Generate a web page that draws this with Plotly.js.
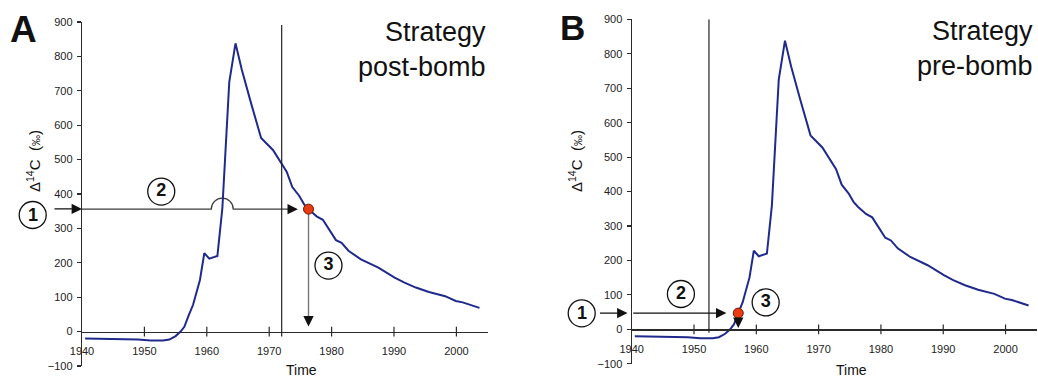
<!DOCTYPE html>
<html>
<head>
<meta charset="utf-8">
<script src="https://cdn.plot.ly/plotly-3.0.1.min.js"></script>
<style>html,body{margin:0;padding:0;background:#fff;}#chart{width:1038px;height:378px;}</style>
</head>
<body>
<div id="chart"></div>
<script>
// ---- data ----
const years = [1940.5, 1943, 1946, 1949, 1951, 1953, 1954, 1955, 1955.8, 1956.4, 1957.1, 1957.8, 1958.9, 1959.6, 1960.4, 1961.7, 1962.5, 1963.6, 1964.6, 1965.6, 1967, 1968.7, 1970.6, 1972, 1972.8, 1973.7, 1974.8, 1975.6, 1976.3, 1977.6, 1978.6, 1980.7, 1981.6, 1982.7, 1984.7, 1987.5, 1990.1, 1991.6, 1993.5, 1995.6, 1998.2, 1999.9, 2001, 2003.7];
const d14C = [-20, -21, -22, -23, -26, -26, -23, -13, 0, 14, 47, 78, 150, 228, 212, 220, 360, 725, 838, 762, 670, 563, 528, 490, 465, 420, 395, 370, 356, 335, 325, 266, 258, 235, 210, 186, 157, 143, 128, 115, 103, 89, 85, 69];

const xTickVals = [1940, 1950, 1960, 1970, 1980, 1990, 2000];
const xTickText = ['1940', '1950', '1960', '1970', '1980', '1990', '2000'];
const crossTicks = [1950, 1960, 1970, 1980, 1990, 2000];
const yTickVals = [-100, 0, 100, 200, 300, 400, 500, 600, 700, 800, 900];

const panelLetters = ['A', 'B'];
const strategyText = ['Strategy<br>post-bomb', 'Strategy<br>pre-bomb'];
const refYear = [1972.0, 1952.4];          // vertical reference lines
const dotYear = [1976.3, 1957.1];          // red measured points
const dotValue = [356, 47];
const stepLabels = ['2', '3'];
const stepYearA = [1952.7, 1979.5];
const stepValA = [407, 192];
const stepYearB = [1947.9, 1961.5];
const stepValB = [102.5, 78];

// ---- layout helpers (pixel -> paper) ----
const W = 1038, H = 378;
const px = v => v / W;
const py = v => (H - v) / H;

const curveColor = '#1f2a8c';
const axisColor = '#2a2a2a';
const fontFam = 'Liberation Sans, Arial, Helvetica, sans-serif';

function curve(xa, ya) {
  return {x: years, y: d14C, xaxis: xa, yaxis: ya, mode: 'lines', type: 'scatter',
    line: {color: curveColor, width: 2}, hoverinfo: 'skip'};
}
function ticksTrace(xa, ya) {
  return {x: crossTicks, y: crossTicks.map(() => 0), xaxis: xa, yaxis: ya, mode: 'markers', type: 'scatter',
    marker: {symbol: 'line-ns', size: 7, line: {color: axisColor, width: 1.2}}, hoverinfo: 'skip', cliponaxis: false};
}
function dotTrace(i, xa, ya) {
  return {x: [dotYear[i]], y: [dotValue[i]], xaxis: xa, yaxis: ya, mode: 'markers', type: 'scatter',
    marker: {color: '#ea3a10', size: 10, line: {color: '#6b1a06', width: 1}}, hoverinfo: 'skip'};
}
function stepTrace(xs, ys, xa, ya) {
  return {x: xs, y: ys, xaxis: xa, yaxis: ya, mode: 'markers+text', type: 'scatter',
    text: stepLabels.map(s => '<b>' + s + '</b>'), textposition: 'middle center',
    textfont: {family: fontFam, size: 18, color: '#111'},
    marker: {symbol: 'circle-open', size: 27, color: '#111', line: {color: '#111', width: 1.3}},
    hoverinfo: 'skip', cliponaxis: false};
}

const data = [
  curve('x', 'y'), curve('x2', 'y2'),
  ticksTrace('x', 'y'), ticksTrace('x2', 'y2'),
  dotTrace(0, 'x', 'y'), dotTrace(1, 'x2', 'y2'),
  stepTrace(stepYearA, stepValA, 'x', 'y'), stepTrace(stepYearB, stepValB, 'x2', 'y2')
];

function xAxis(domain, pos) {
  return {domain: domain, range: [1940, 2005], anchor: 'free', position: pos,
    showline: true, linecolor: axisColor, linewidth: 1.2, ticks: '', tickvals: xTickVals, ticktext: xTickText,
    tickfont: {family: fontFam, size: 11, color: '#222'}, ticklabelstandoff: 9,
    showgrid: false, zeroline: false, fixedrange: true};
}
function yAxis(domain, anchor) {
  return {domain: domain, range: [-100, 900], anchor: anchor,
    showline: true, linecolor: axisColor, linewidth: 1.2, ticks: 'outside', ticklen: 4, tickwidth: 1.1, tickcolor: axisColor,
    tickvals: yTickVals, tickfont: {family: fontFam, size: 11, color: '#222'}, ticklabelstandoff: 2,
    showgrid: false, zeroline: false, fixedrange: true};
}

// hop over the curve on panel A's horizontal line
const lvlA = dotValue[0], lvlB = dotValue[1];
const hopC = 1962.48, rx = 1.76, ry = 32, k = 0.5523;
const hopPath = 'M1940,' + lvlA + ' L' + (hopC - rx) + ',' + lvlA +
  ' C' + (hopC - rx) + ',' + (lvlA + k * ry) + ' ' + (hopC - k * rx) + ',' + (lvlA + ry) + ' ' + hopC + ',' + (lvlA + ry) +
  ' C' + (hopC + k * rx) + ',' + (lvlA + ry) + ' ' + (hopC + rx) + ',' + (lvlA + k * ry) + ' ' + (hopC + rx) + ',' + lvlA +
  ' L1974.0,' + lvlA;

function circle1(cx, cy) {
  return {type: 'circle', xref: 'paper', yref: 'paper', xsizemode: 'pixel', ysizemode: 'pixel',
    xanchor: px(cx), yanchor: py(cy), x0: -13.5, x1: 13.5, y0: -13.5, y1: 13.5, line: {color: '#111', width: 1.3}};
}

const shapes = [
  {type: 'line', xref: 'x', yref: 'y', x0: refYear[0], x1: refYear[0], y0: -14, y1: 891, line: {color: '#222', width: 1.2}},
  {type: 'line', xref: 'x2', yref: 'y2', x0: refYear[1], x1: refYear[1], y0: -10, y1: 900, line: {color: '#222', width: 1.2}},
  {type: 'path', xref: 'x', yref: 'y', path: hopPath, line: {color: '#3c3c3c', width: 1.3}, layer: 'below'},
  {type: 'line', xref: 'x', yref: 'y', x0: dotYear[0], x1: dotYear[0], y0: lvlA - 10, y1: 30, line: {color: '#777', width: 1.4}, layer: 'below'},
  circle1(32.7, 215), circle1(581.7, 313.3)
];

function arrow(xr, yr, x, y, ax, ay) {
  return {xref: xr, yref: yr, axref: xr, ayref: yr, x: x, y: y, ax: ax, ay: ay, text: '', showarrow: true,
    arrowhead: 2, arrowsize: 1.6, arrowwidth: 1.3, arrowcolor: '#111', standoff: 0, startstandoff: 0};
}
function paperArrow(x, y, ax) {
  return {xref: 'paper', yref: 'paper', x: px(x), y: py(y), ax: ax, ay: 0, text: '', showarrow: true,
    arrowhead: 2, arrowsize: 1.6, arrowwidth: 1.3, arrowcolor: '#111', standoff: 0, startstandoff: 0};
}
function label(x, y, text, size, extra) {
  return Object.assign({xref: 'paper', yref: 'paper', x: px(x), y: py(y), xanchor: 'center', yanchor: 'middle',
    text: text, showarrow: false, font: {family: fontFam, size: size, color: '#111'}}, extra || {});
}
const ytitle = 'Δ<sup>14</sup>C  (<span style="font-size:11px">‰</span>)';
const annotations = [
  label(23.5, 29, '<b>' + panelLetters[0] + '</b>', 37),
  label(572.5, 27.5, '<b>' + panelLetters[1] + '</b>', 35),
  label(488, 49, strategyText[0], 27, {xanchor: 'right', align: 'right'}),
  label(1035, 48, strategyText[1], 27, {xanchor: 'right', align: 'right'}),
  label(33, 161, ytitle, 15, {textangle: -90}),
  label(575, 161, ytitle, 15, {textangle: -90}),
  label(301, 370, 'Time', 14),
  label(851, 370, 'Time', 14),
  label(32.7, 215, '<b>1</b>', 18),
  label(581.7, 313.3, '<b>1</b>', 18),
  paperArrow(82, 208.9, -29),
  paperArrow(627.5, 313.1, -29),
  arrow('x', 'y', 1974.6, lvlA, 1972.8, lvlA),
  arrow('x', 'y', dotYear[0], 15, dotYear[0], 50),
  arrow('x2', 'y2', 1955.2, lvlB, 1940, lvlB),
  arrow('x2', 'y2', dotYear[1], 4, dotYear[1], 34)
];

const layout = {
  width: W, height: H, margin: {l: 0, r: 0, t: 0, b: 0},
  paper_bgcolor: '#ffffff', plot_bgcolor: 'rgba(0,0,0,0)', showlegend: false,
  font: {family: fontFam, color: '#222'},
  xaxis: xAxis([px(82), px(487.6)], 0.1228),
  yaxis: yAxis([0.03175, 0.9418], 'x'),
  xaxis2: xAxis([px(631.7), px(1036.7)], 0.1288),
  yaxis2: yAxis([0.0377, 0.9489], 'x2'),
  shapes: shapes, annotations: annotations
};

Plotly.newPlot('chart', data, layout, {staticPlot: true, displayModeBar: false});
</script>
</body>
</html>
